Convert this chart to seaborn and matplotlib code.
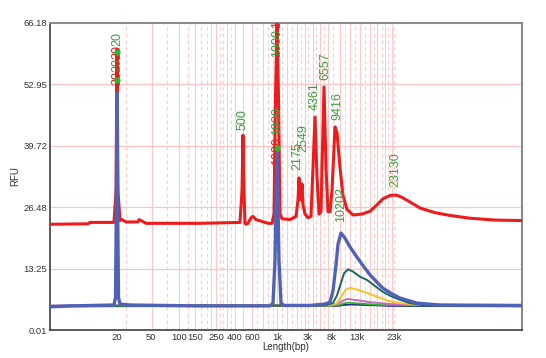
import matplotlib
matplotlib.use("Agg")
import matplotlib.pyplot as plt
import seaborn as sns
import pandas as pd

# ---------------- data (x = migration position, y = RFU) ----------------
tick_pos = [67, 101, 129, 145, 166, 185, 202, 227.5, 258, 281.5, 306.5, 344]
tick_labels = ["20", "50", "100", "150", "250", "400", "600", "1k", "3k", "8k", "13k", "23k"]
y_ticks = [0.01, 13.25, 26.48, 39.72, 52.95, 66.18]

red_pos = [0, 38, 40, 64, 66, 67, 68, 70, 72, 76, 88, 89, 91, 96, 150, 190, 192, 193, 194,
           195, 196, 198, 201, 203, 206, 212, 218, 222, 224, 225.5, 227, 228.5, 230, 232, 240,
           246, 248, 249, 250, 251, 252, 253, 255, 258, 261, 263, 265, 267, 269, 271, 272,
           274, 276, 278, 280, 282, 285, 287, 290, 293, 297, 303, 312, 320, 327, 333, 340,
           346, 352, 360, 370, 385, 400, 420, 445, 472]
red_rfu = [22.8, 22.9, 23.2, 23.2, 30.0, 60.5, 30.0, 23.6, 23.8, 23.3, 23.3, 23.8, 23.6, 23.0,
           23.0, 23.2, 30.0, 42.0, 30.0, 23.0, 22.8, 23.0, 24.2, 24.5, 23.8, 23.4, 23.0, 23.0,
           25.0, 50.0, 67.0, 50.0, 25.0, 24.0, 23.8, 24.5, 28.0, 32.8, 29.0, 28.0, 31.5, 27.0,
           25.0, 24.2, 24.5, 35.0, 45.9, 33.0, 25.0, 25.5, 35.0, 52.4, 35.0, 25.5, 25.5, 30.0,
           43.8, 42.5, 35.0, 29.0, 26.0, 24.8, 25.0, 25.6, 27.0, 28.3, 29.0, 29.1, 28.6, 27.6,
           26.3, 25.3, 24.7, 24.1, 23.7, 23.6]

blue_pos = [0, 20, 64, 65.5, 66.5, 67, 67.5, 68.5, 70, 80, 150, 220, 223, 225, 227, 229, 231,
            234, 260, 275, 280, 283, 286, 288, 291, 295, 300, 307, 314, 320, 327, 333, 342, 350,
            367, 390, 472]
blue_rfu = [5.0, 5.2, 5.4, 7.0, 30.0, 51.1, 30.0, 7.0, 5.6, 5.4, 5.2, 5.2, 5.8, 15.0, 38.8,
            15.0, 5.8, 5.3, 5.3, 5.6, 6.0, 8.5, 14.0, 18.5, 20.9, 19.8, 17.9, 15.7, 13.6, 11.9,
            10.3, 9.0, 7.8, 6.9, 5.8, 5.4, 5.3]

teal_pos = [0, 275, 283, 287, 290, 294, 298, 303, 310, 317, 325, 333, 342, 350, 360, 372, 472]
teal_rfu = [5.2, 5.3, 5.8, 7.5, 9.5, 12.2, 13.1, 12.6, 11.5, 10.8, 9.5, 8.2, 7.2, 6.5, 5.8, 5.4, 5.3]

yellow_pos = [0, 280, 287, 292, 296, 300, 306, 317, 325, 333, 342, 350, 365, 472]
yellow_rfu = [5.2, 5.3, 5.8, 7.5, 8.7, 9.1, 8.8, 8.0, 7.3, 6.7, 6.1, 5.8, 5.5, 5.3]

purple_pos = [0, 285, 291, 297, 305, 320, 340, 360, 472]
purple_rfu = [5.3, 5.4, 6.1, 6.7, 6.5, 6.0, 5.6, 5.4, 5.3]

green_pos = [0, 288, 293, 298, 310, 330, 472]
green_rfu = [5.2, 5.3, 5.7, 5.9, 5.7, 5.4, 5.2]

navy_pos = [0, 288, 294, 300, 315, 340, 472]
navy_rfu = [5.1, 5.2, 5.4, 5.5, 5.4, 5.2, 5.1]

# peak size labels: (text, x, bottom y, colour)
peak_labels = [
    ("20", 67, 58.4, "red"), ("20", 67, 61.2, "green"),
    ("20", 67, 52.8, "red"), ("20", 67, 55.6, "green"),
    ("500", 193, 43.1, "green"),
    ("1000", 227, 65.0, "red"), ("1000", 227, 58.8, "green"),
    ("1000", 227, 35.6, "red"), ("1000", 227, 42.0, "green"),
    ("2175", 247, 34.5, "green"), ("2549", 253, 38.4, "green"),
    ("4361", 265, 47.4, "green"), ("6557", 275, 53.9, "green"),
    ("9416", 287, 45.3, "green"), ("10202", 291, 23.3, "green"),
    ("23130", 345, 30.8, "green"),
]
marker_pos = [67, 67, 227]
marker_rfu = [59.9, 53.9, 39.2]

# ---------------- style ----------------
sns.set_theme(style="white")
plt.rcParams["font.family"] = ["Liberation Sans", "DejaVu Sans"]

fig = plt.figure(figsize=(5.46, 3.58), dpi=100)
ax = fig.add_axes([50 / 546, 28 / 358, 472 / 546, 307 / 358])

grid_solid = [102, 129, 145, 161, 166, 177, 185, 193, 202, 213, 227, 237, 247, 255, 263, 270,
              278, 290, 300, 310, 320, 327, 335, 342]
grid_dashed = [76, 117, 138, 151, 157, 170, 173, 181, 207, 218, 223, 232, 242, 251, 258, 266,
               274, 283, 295, 305, 315, 324, 332, 338, 344]
for g in grid_solid:
    ax.axvline(g, color="#fbcaca", lw=0.8, zorder=0)
for g in grid_dashed:
    ax.axvline(g, color="#fbcaca", lw=0.8, ls=(0, (3, 3)), zorder=0)
for yv in y_ticks[1:-1]:
    ax.axhline(yv, color="#f8c4c4", lw=0.9, zorder=0)

series = [
    (red_pos, red_rfu, "#ec1c1c", 2.2),
    (navy_pos, navy_rfu, "#1f2f90", 1.3),
    (green_pos, green_rfu, "#2fb52f", 1.3),
    (purple_pos, purple_rfu, "#c06cc0", 1.4),
    (yellow_pos, yellow_rfu, "#f6c225", 1.4),
    (teal_pos, teal_rfu, "#16695c", 1.4),
    (blue_pos, blue_rfu, "#5062b8", 2.4),
]
for xs, ys, col, lw in series:
    df = pd.DataFrame({"pos": xs, "rfu": ys})
    sns.lineplot(data=df, x="pos", y="rfu", color=col, lw=lw, ax=ax, sort=False,
                 estimator=None, zorder=3)

ax.scatter(marker_pos, marker_rfu, s=12, color="#2fb52f", zorder=7)

label_colors = {"green": "#3b9e3b", "red": "#e02020"}
for txt, xv, yv, c in peak_labels:
    ax.text(xv, yv, txt, rotation=90, ha="center", va="bottom", fontsize=9,
            color=label_colors[c], zorder=6 if c == "green" else 2.5, clip_on=True)

ax.set_xlim(0, 472)
ax.set_ylim(0.01, 66.18)
ax.set_xticks(tick_pos)
ax.set_xticklabels(tick_labels)
ax.set_yticks(y_ticks)
ax.set_yticklabels([f"{v:.2f}" for v in y_ticks])
ax.tick_params(axis="both", length=0, labelsize=6.8, colors="#333333", pad=2)
ax.set_xlabel("Length(bp)", fontsize=7, color="#333333", labelpad=0)
ax.set_ylabel("RFU", fontsize=7, color="#333333", labelpad=2)
for side in ["top", "right"]:
    ax.spines[side].set_color("#8a8a8a")
    ax.spines[side].set_linewidth(1.5)
for side in ["left", "bottom"]:
    ax.spines[side].set_color("#404040")
    ax.spines[side].set_linewidth(1.2)
ax.grid(False)

fig.savefig("out.png", dpi=100)
